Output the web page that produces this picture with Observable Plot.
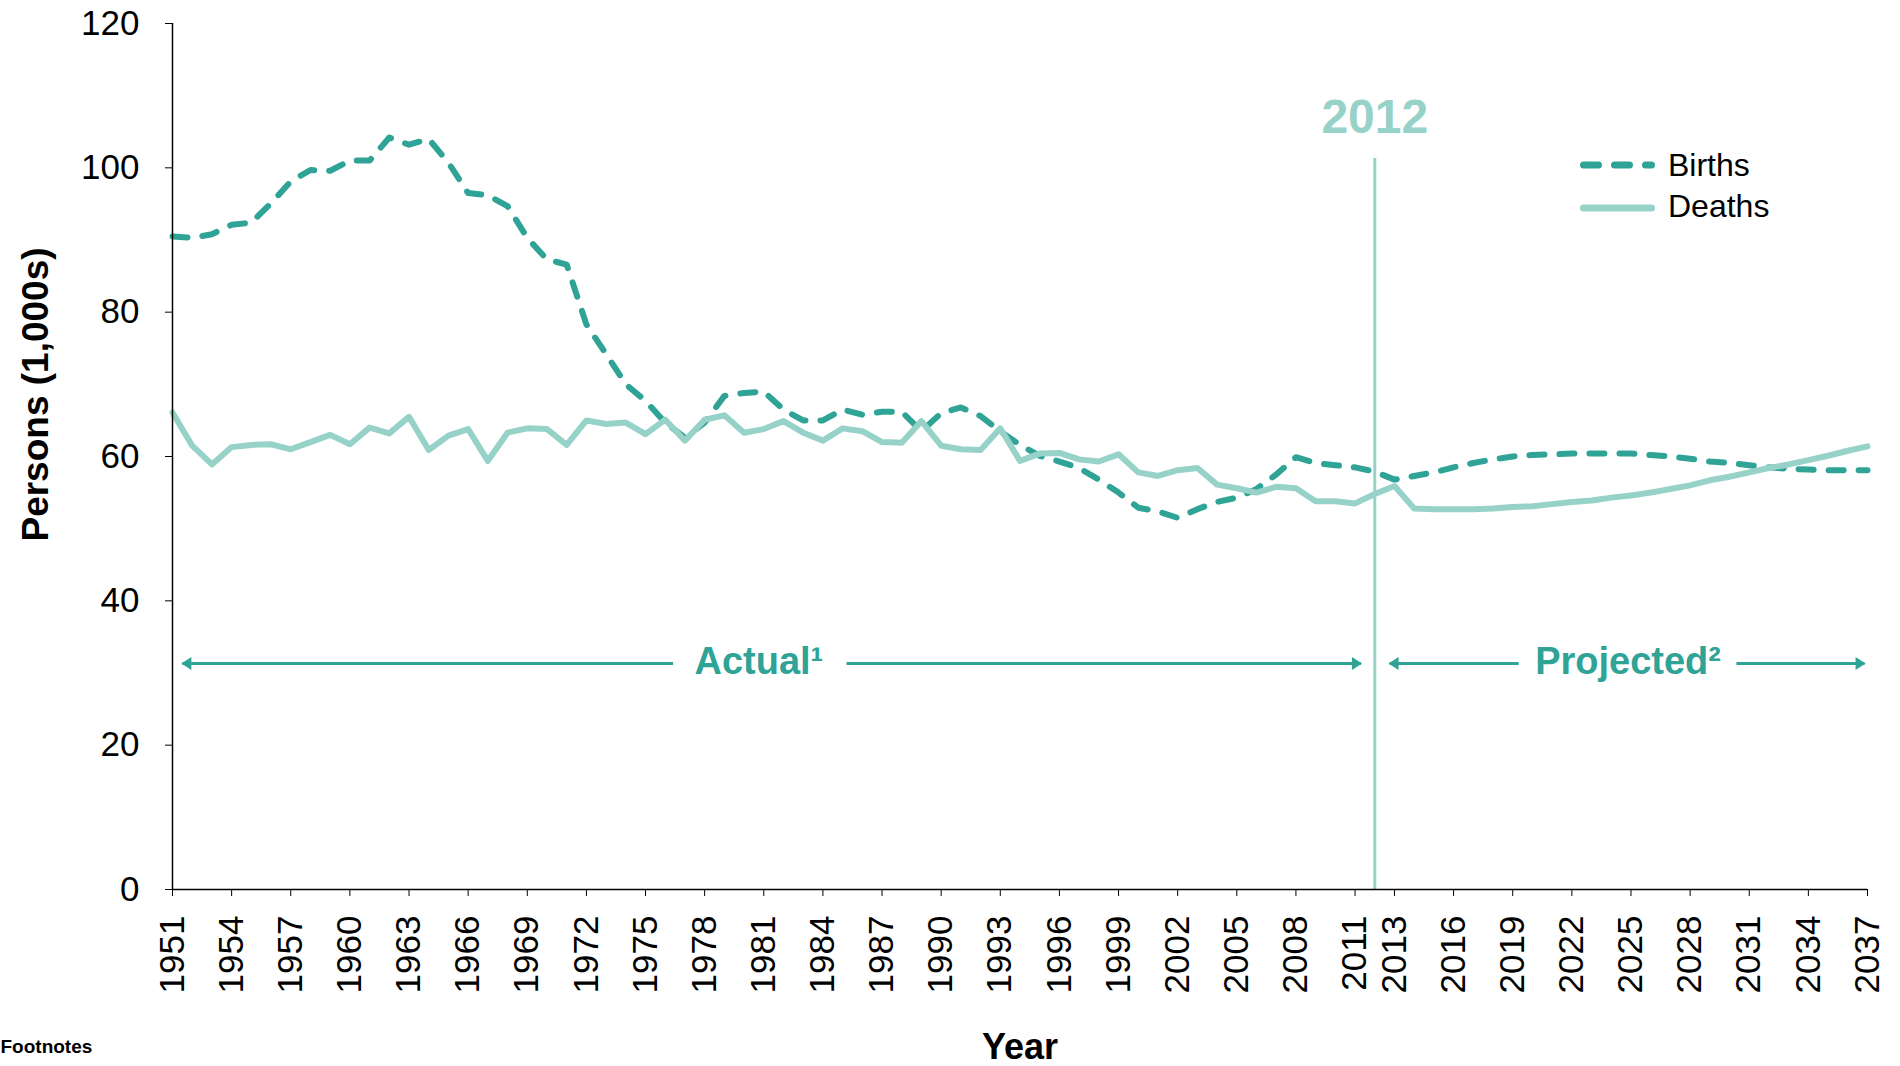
<!DOCTYPE html>
<html>
<head>
<meta charset="utf-8">
<script src="https://cdn.jsdelivr.net/npm/d3@7"></script>
<script src="https://cdn.jsdelivr.net/npm/@observablehq/plot@0.6"></script>
<style>
  html, body { margin: 0; padding: 0; background: #fff; }
  #wrap { position: relative; width: 1900px; height: 1066px; overflow: hidden; font-family: Arial, "Liberation Sans", sans-serif; }
  .leg { position: absolute; font-size: 32px; line-height: 32px; color: #000; white-space: nowrap; }
</style>
</head>
<body>
<div id="wrap"></div>
<script>
// ---- data ----
const years = [1951,1952,1953,1954,1955,1956,1957,1958,1959,1960,1961,1962,1963,1964,1965,1966,1967,1968,1969,1970,
  1971,1972,1973,1974,1975,1976,1977,1978,1979,1980,1981,1982,1983,1984,1985,1986,1987,1988,1989,1990,
  1991,1992,1993,1994,1995,1996,1997,1998,1999,2000,2001,2002,2003,2004,2005,2006,2007,2008,2009,2010,
  2011,2012,2013,2014,2015,2016,2017,2018,2019,2020,2021,2022,2023,2024,2025,2026,2027,2028,2029,2030,
  2031,2032,2033,2034,2035,2036,2037];
const births = [90.5,90.3,90.8,92.1,92.4,95.1,98.1,99.7,99.6,101.0,101.0,104.2,103.2,104.0,100.7,96.5,96.2,94.7,90.3,87.3,
  86.6,78.3,74.2,70.0,67.7,64.7,62.6,64.7,68.4,68.8,69.0,66.5,65.0,65.0,66.5,65.8,66.2,66.2,63.5,66.0,
  66.8,65.6,63.5,61.6,60.1,59.3,58.4,56.8,55.0,52.9,52.4,51.5,52.7,53.7,54.3,55.5,57.5,59.9,59.1,58.8,
  58.5,57.9,56.8,57.3,57.8,58.5,59.1,59.6,60.0,60.2,60.3,60.4,60.4,60.4,60.4,60.2,60.0,59.7,59.3,59.1,
  58.8,58.5,58.3,58.2,58.1,58.1,58.1];
const deaths = [66.1,61.5,58.9,61.3,61.6,61.7,61.0,62.0,63.0,61.7,64.0,63.2,65.5,60.9,62.9,63.8,59.4,63.3,63.9,63.8,
  61.6,65.0,64.5,64.7,63.1,65.1,62.2,65.1,65.7,63.3,63.8,64.9,63.3,62.2,63.9,63.5,62.0,61.9,64.9,61.5,
  61.0,60.9,63.9,59.4,60.4,60.5,59.6,59.3,60.3,57.8,57.3,58.1,58.4,56.1,55.6,55.0,55.8,55.6,53.8,53.8,
  53.5,54.8,55.9,52.8,52.7,52.7,52.7,52.8,53.0,53.1,53.4,53.7,53.9,54.3,54.6,55.0,55.5,56.0,56.7,57.2,
  57.8,58.4,58.9,59.5,60.1,60.8,61.4];
const xTickYears = [1951,1954,1957,1960,1963,1966,1969,1972,1975,1978,1981,1984,1987,1990,1993,1996,1999,2002,2005,2008,2011,
  2013,2016,2019,2022,2025,2028,2031,2034,2037];
const yTicks = [0,20,40,60,80,100,120];
const seriesNames = ["Births", "Deaths"];
const splitYear = 2012;
const splitLineTop = 101.3;
// annotation arrows: [from, to] in years, level in persons (1,000s)
const arrowLevel = 31.3;
const arrowSegments = [[1976.4, 1951.5], [1985.2, 2011.3], [2019.3, 2012.75], [2030.35, 2036.85]];
const periodLabels = ["Actual\u00B9", "Projected\u00B2"];
const periodLabelYears = [1980.75, 2024.85];

// ---- colours ----
const dark = "#2EA396";
const light = "#97D2C9";

const birthsData = years.map((y, i) => ({year: y, value: births[i]}));
const deathsData = years.map((y, i) => ({year: y, value: deaths[i]}));

const triRight = { draw(ctx) { ctx.moveTo(-9, -6.5); ctx.lineTo(1, 0); ctx.lineTo(-9, 6.5); ctx.closePath(); } };
const triLeft  = { draw(ctx) { ctx.moveTo(9, -6.5); ctx.lineTo(-1, 0); ctx.lineTo(9, 6.5); ctx.closePath(); } };

const chart = Plot.plot({
  width: 1900,
  height: 1066,
  marginLeft: 172,
  marginRight: 33,
  marginTop: 23,
  marginBottom: 177,
  style: { fontFamily: "Arial, 'Liberation Sans', sans-serif", fontSize: "35px", color: "#000", background: "#fff", overflow: "visible" },
  x: { domain: [1951, 2037], ticks: xTickYears, tickFormat: d => String(d), tickRotate: -90, tickSize: 7, tickPadding: 19, label: null },
  y: { domain: [0, 120], ticks: yTicks, tickSize: 7, tickPadding: 26, label: null },
  marks: [
    Plot.line(birthsData, { x: "year", y: "value", stroke: dark, strokeWidth: 6, strokeDasharray: "15,15", strokeLinecap: "round", strokeLinejoin: "round" }),
    Plot.line(deathsData, { x: "year", y: "value", stroke: light, strokeWidth: 6, strokeLinejoin: "round" }),
    Plot.ruleX([splitYear], { y1: 0, y2: splitLineTop, stroke: light, strokeWidth: 3 }),
    Plot.ruleX([1951], { stroke: "#000", strokeWidth: 1.5 }),
    Plot.ruleY([0], { stroke: "#000", strokeWidth: 1.5 }),
    Plot.link(arrowSegments, { x1: d => d[0], x2: d => d[1], y1: arrowLevel, y2: arrowLevel, stroke: dark, strokeWidth: 3 }),
    Plot.dot(arrowSegments.filter(d => d[1] > d[0]), { x: d => d[1], y: arrowLevel, symbol: triRight, fill: dark, stroke: null, r: 6 }),
    Plot.dot(arrowSegments.filter(d => d[1] < d[0]), { x: d => d[1], y: arrowLevel, symbol: triLeft, fill: dark, stroke: null, r: 6 }),
    Plot.text(periodLabels, { x: (d, i) => periodLabelYears[i], y: arrowLevel, dy: -2, text: d => d, fill: dark, fontSize: 38, fontWeight: "bold" }),
    Plot.text([splitYear], { x: d => d, frameAnchor: "top", lineAnchor: "middle", dy: 94, text: d => String(d), fill: light, fontSize: 48, fontWeight: "bold" }),
    Plot.text(["Persons (1,000s)"], { frameAnchor: "left", textAnchor: "middle", lineAnchor: "middle", rotate: -90, dx: -136, dy: -62, text: d => d, fontSize: 37, fontWeight: "bold", fill: "#000" }),
    Plot.text(["Year"], { frameAnchor: "bottom", textAnchor: "middle", lineAnchor: "middle", dy: 158, text: d => d, fontSize: 36, fontWeight: "bold", fill: "#000" }),
    Plot.text(["Footnotes"], { frameAnchor: "bottom-left", textAnchor: "start", lineAnchor: "middle", dx: -172, dy: 157, text: d => d, fontSize: 19, fontWeight: "bold", fill: "#000" })
  ]
});

const wrap = document.getElementById("wrap");
wrap.appendChild(chart);

// legend
const legendItems = [
  { name: seriesNames[0], top: 149, lineY: 165, color: dark, dash: "15 16" },
  { name: seriesNames[1], top: 190, lineY: 208, color: light, dash: null }
];
for (const it of legendItems) {
  const svg = d3.create("svg").attr("width", 90).attr("height", 20)
    .style("position", "absolute").style("left", "1575px").style("top", (it.lineY - 10) + "px");
  svg.append("line").attr("x1", 8.5).attr("x2", 76.5).attr("y1", 10).attr("y2", 10)
    .attr("stroke", it.color).attr("stroke-width", 7).attr("stroke-linecap", "round")
    .attr("stroke-dasharray", it.dash);
  wrap.appendChild(svg.node());
  const lab = document.createElement("div");
  lab.className = "leg";
  lab.style.left = "1668px";
  lab.style.top = it.top + "px";
  lab.textContent = it.name;
  wrap.appendChild(lab);
}
</script>
</body>
</html>
